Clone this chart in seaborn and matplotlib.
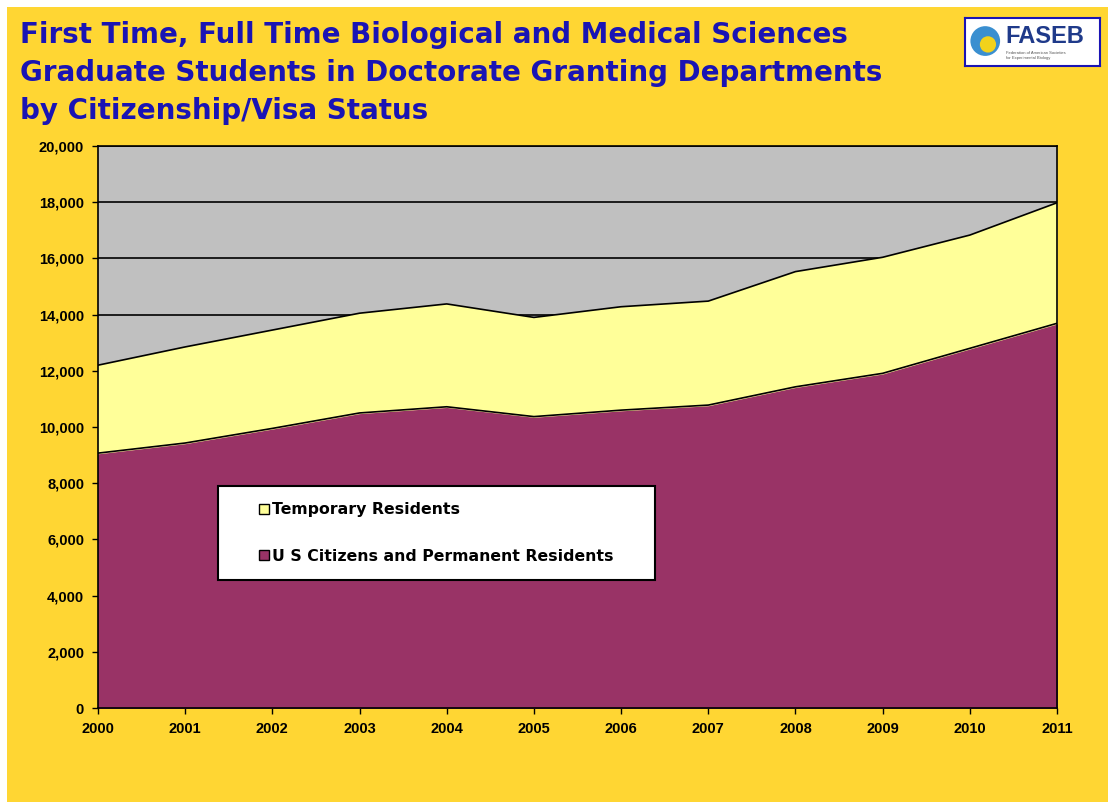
# First time, full time biological & medical sciences grad students by citizenship

import matplotlib.pyplot as plt
import matplotlib.patches as mpatches
from matplotlib.ticker import FuncFormatter
import seaborn as sns
import pandas as pd

# Data
years = [2000, 2001, 2002, 2003, 2004, 2005, 2006, 2007, 2008, 2009, 2010, 2011]
us_citizens = [9070, 9430, 9950, 10500, 10720, 10370, 10600, 10780, 11430, 11910, 12800, 13690]
temporary = [3130, 3420, 3500, 3550, 3660, 3530, 3680, 3700, 4100, 4130, 4030, 4290]
labels = ["Temporary Residents", "U S Citizens and Permanent Residents"]

df = pd.DataFrame({"Year": years, "US": us_citizens, "Temp": temporary})
df["Total"] = df["US"] + df["Temp"]

BG = "#FFD633"
PLUM = "#993366"
PALE = "#FFFF99"
GRAY = "#C0C0C0"
BLUE = "#1A14B4"

sns.set_style("white")
plt.rcParams["font.family"] = ["Liberation Sans", "DejaVu Sans"]
plt.rcParams["text.color"] = "black"
plt.rcParams["xtick.color"] = "black"
plt.rcParams["ytick.color"] = "black"

fig = plt.figure(figsize=(11.08, 8.02), dpi=100)
fig.patch.set_facecolor("white")
# yellow slide background (thin white strip left/top)
fig.add_artist(mpatches.Rectangle((7 / 1108, 0), 1, 1 - 7 / 802, transform=fig.transFigure,
                                  facecolor=BG, edgecolor="none", zorder=0))

ax = fig.add_axes([98 / 1108, 94 / 802, 959 / 1108, 562 / 802])
ax.set_facecolor(GRAY)

ax.fill_between(df["Year"], 0, df["US"], color=PLUM, zorder=2)
ax.fill_between(df["Year"], df["US"], df["Total"], color=PALE, zorder=2)
sns.lineplot(x="Year", y="US", data=df, color="black", linewidth=1.2, ax=ax, zorder=3)
sns.lineplot(x="Year", y="Total", data=df, color="black", linewidth=1.2, ax=ax, zorder=3)

ax.set_xlim(2000, 2011)
ax.set_ylim(0, 20000)
ax.set_xticks(years)
ax.set_yticks(range(0, 20001, 2000))
ax.yaxis.set_major_formatter(FuncFormatter(lambda v, p: f"{int(v):,}"))
ax.grid(axis="y", color="black", linewidth=1.2, zorder=1)
ax.set_axisbelow(True)
ax.set_xlabel("")
ax.set_ylabel("")
for s in ax.spines.values():
    s.set_color("black")
    s.set_linewidth(1.2)
ax.tick_params(axis="both", length=4, width=1, color="black", direction="out",
               left=True, bottom=True, labelsize=10.5, labelcolor="black", pad=6)
for t in ax.get_xticklabels() + ax.get_yticklabels():
    t.set_fontweight("bold")

# legend: white box drawn separately, entries inside it
ax.add_patch(mpatches.Rectangle((0.1251, 0.2278), 0.4557, 0.1672, transform=ax.transAxes,
                                facecolor="white", edgecolor="black", linewidth=1.5, zorder=4))
handles = [mpatches.Patch(facecolor=PALE, edgecolor="black", label=labels[0]),
           mpatches.Patch(facecolor=PLUM, edgecolor="black", label=labels[1])]
leg = ax.legend(handles=handles, loc="upper left", bbox_to_anchor=(0.168, 0.366), frameon=False,
                prop={"family": "DejaVu Sans", "weight": "bold", "size": 11.3},
                handlelength=0.6, handleheight=0.6, handletextpad=0.25,
                labelspacing=2.0, borderpad=0, borderaxespad=0)
for t in leg.get_texts():
    t.set_color("black")
leg.set_zorder(5)

# title
fig.text(20 / 1108, 1 - 21 / 802,
         "First Time, Full Time Biological and Medical Sciences\n"
         "Graduate Students in Doctorate Granting Departments\n"
         "by Citizenship/Visa Status",
         color=BLUE, fontsize=20, fontweight="bold", family="DejaVu Sans",
         va="top", ha="left", linespacing=1.45)

# FASEB logo box
logo = fig.add_axes([965 / 1108, 1 - 66 / 802, 135 / 1108, 48 / 802])
logo.set_xticks([])
logo.set_yticks([])
logo.set_facecolor("white")
for s in logo.spines.values():
    s.set_color("#1A14B4")
    s.set_linewidth(1.5)
logo.add_patch(mpatches.Ellipse((0.15, 0.52), 0.22, 0.62, facecolor="#3A8FD0", edgecolor="none",
                                transform=logo.transAxes))
logo.add_patch(mpatches.Ellipse((0.17, 0.45), 0.12, 0.34, facecolor="#F2D21B", edgecolor="none",
                                transform=logo.transAxes))
logo.text(0.30, 0.62, "FASEB", color="#1F3A8A", fontsize=17, fontweight="bold",
          ha="left", va="center", transform=logo.transAxes)
logo.text(0.30, 0.22, "Federation of American Societies\nfor Experimental Biology", color="#555555",
          fontsize=3, ha="left", va="center", transform=logo.transAxes)

plt.savefig("out.png", dpi=100, facecolor=fig.get_facecolor())
